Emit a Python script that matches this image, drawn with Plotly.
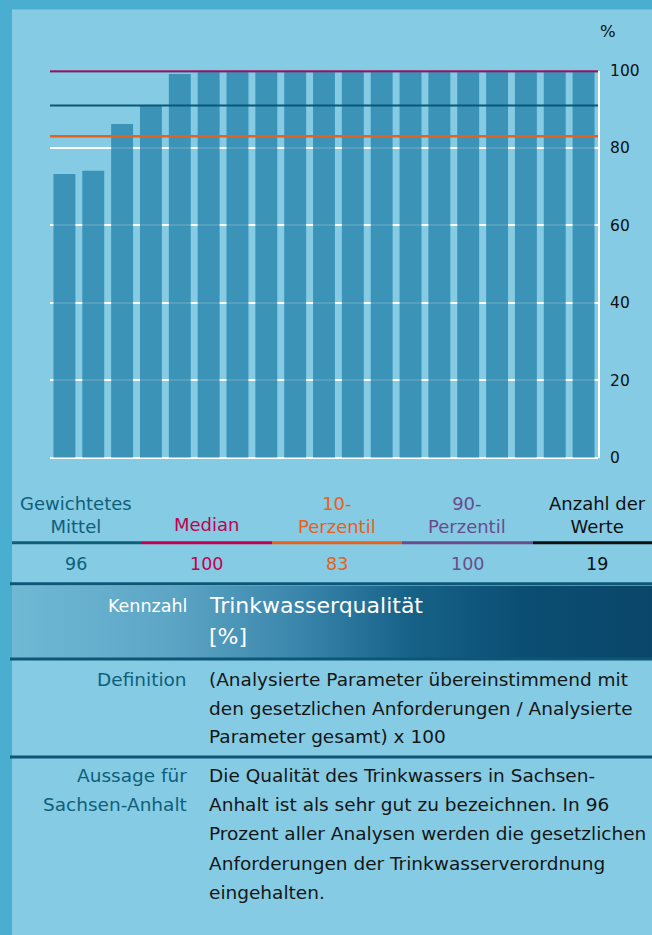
import plotly.graph_objects as go

W, H = 652, 935          # reference picture size; positions below are given in these pixels
H_FIG = 947              # figure height
S, D = 1.02, 9.7         # capture squeezes the page vertically (page_y = S*ref_y - D)

# ---- data ----
kategorien = list(range(1, 20))
werte = [73.3, 74.1, 86.2, 90.9, 99.1, 100, 100, 100, 100, 100, 100, 100, 100, 100, 100, 100, 100, 100, 100]
mittel_linie = 91
median = 100
perzentil_10 = 83
perzentil_90 = 100
y_ticks = [0, 20, 40, 60, 80, 100]

legend_labels = ["Gewichtetes<br>Mittel", "Median", "10-<br>Perzentil", "90-<br>Perzentil", "Anzahl der<br>Werte"]
legend_werte = ["96", "100", "83", "100", "19"]
legend_farben = ["#0f5f7a", "#c2004f", "#e8601c", "#6a4b8c", "#111111"]

kennzahl_text = ["Trinkwasserqualität", "[%]"]
definition_text = ["(Analysierte Parameter übereinstimmend mit",
                   "den gesetzlichen Anforderungen / Analysierte",
                   "Parameter gesamt) x 100"]
aussage_label = ["Aussage für", "Sachsen-Anhalt"]
aussage_text = ["Die Qualität des Trinkwassers in Sachsen-",
                "Anhalt ist als sehr gut zu bezeichnen. In 96",
                "Prozent aller Analysen werden die gesetzlichen",
                "Anforderungen der Trinkwasserverordnung",
                "eingehalten."]

FONT = "DejaVu Sans"
TEAL = "#0f5f7a"
LINE = "#0c5676"
BG = "#4aaed0"


def px(x):
    return x / W


def py(y):
    return 1 - (S * y - D) / H_FIG


fig = go.Figure()

# bars
fig.add_trace(go.Bar(x=list(range(len(werte))), y=werte,
                     marker=dict(color="rgba(38,132,172,0.78)", line=dict(width=0)),
                     hoverinfo="skip", showlegend=False))

# reference lines
xr = [-0.5, len(werte) - 0.5]
fig.add_trace(go.Scatter(x=xr, y=[mittel_linie] * 2, mode="lines",
                         line=dict(color="#0b5775", width=2), showlegend=False, hoverinfo="skip"))
fig.add_trace(go.Scatter(x=xr, y=[perzentil_10] * 2, mode="lines",
                         line=dict(color="#e8601c", width=2.5), showlegend=False, hoverinfo="skip"))
fig.add_trace(go.Scatter(x=xr, y=[perzentil_90] * 2, mode="lines",
                         line=dict(color="#6a4b8c", width=3.8), showlegend=False, hoverinfo="skip"))
fig.add_trace(go.Scatter(x=xr, y=[median] * 2, mode="lines",
                         line=dict(color="#c2004f", width=3), showlegend=False, hoverinfo="skip"))

# Kennzahl band with gradient (overlay axes in reference pixels)
fig.add_trace(go.Scatter(x=[12, 652, 652, 12, 12], y=[586, 586, 658, 658, 586],
                         xaxis="x2", yaxis="y2", mode="lines", line=dict(width=0),
                         fill="toself",
                         fillgradient=dict(type="horizontal", start=12, stop=652,
                                           colorscale=[[0, "#70b9d5"], [0.25, "#5ca5c5"],
                                                       [0.45, "#3a85ab"], [0.62, "#176288"],
                                                       [0.8, "#0b4e73"], [1, "#0a4669"]]),
                         showlegend=False, hoverinfo="skip"))

shapes = []
# background panel
shapes.append(dict(type="rect", xref="paper", yref="paper", x0=px(12), x1=1, y0=0, y1=min(1, py(10)),
                   fillcolor="#84cbe3", line=dict(width=0), layer="below"))

# legend underline segments
segs = [12, 141, 272, 402, 533, 652]
for i in range(5):
    shapes.append(dict(type="line", xref="paper", yref="paper", x0=px(segs[i]), x1=px(segs[i + 1]),
                       y0=py(543), y1=py(543), line=dict(color=legend_farben[i], width=3)))
# row separators
for yy in [584, 659, 757]:
    shapes.append(dict(type="line", xref="paper", yref="paper", x0=px(10), x1=1,
                       y0=py(yy), y1=py(yy), line=dict(color=LINE, width=3)))

ann = []
centers = [76, 206, 337, 467, 597]
for i in range(5):
    two = "<br>" in legend_labels[i]
    ann.append(dict(x=px(centers[i]), y=py(515.5 if two else 525), text=legend_labels[i], showarrow=False,
                    xref="paper", yref="paper", xanchor="center", yanchor="middle",
                    font=dict(family=FONT, size=18, color=legend_farben[i])))
    ann.append(dict(x=px(centers[i]), y=py(564), text=legend_werte[i], showarrow=False,
                    xref="paper", yref="paper", xanchor="center", yanchor="middle",
                    font=dict(family=FONT, size=17.5, color=legend_farben[i])))

# % label
ann.append(dict(x=px(608), y=py(32), text="%", showarrow=False, xref="paper", yref="paper",
                xanchor="center", yanchor="middle", font=dict(family=FONT, size=16.5, color="#111111")))


def label(y, text, color, size=18.5):
    ann.append(dict(x=px(189), y=py(y), text=text, showarrow=False, xref="paper", yref="paper",
                    xanchor="right", yanchor="middle", font=dict(family=FONT, size=size, color=color)))


def body(y, text, color="#161616", size=18.5):
    ann.append(dict(x=px(207), y=py(y), text=text, showarrow=False, xref="paper", yref="paper",
                    xanchor="left", yanchor="middle", font=dict(family=FONT, size=size, color=color)))


label(606, "Kennzahl", "white", 17.5)
body(606, kennzahl_text[0], "white", 22)
body(637, kennzahl_text[1], "white", 22)

label(680, "Definition", TEAL)
for i, t in enumerate(definition_text):
    body(680 + i * 28.5, t)

for i, t in enumerate(aussage_label):
    label(776 + i * 29, t, TEAL)
for i, t in enumerate(aussage_text):
    body(776 + i * 29, t)

fig.update_layout(
    width=W, height=H_FIG,
    margin=dict(l=0, r=0, t=0, b=0),
    paper_bgcolor=BG,
    plot_bgcolor="rgba(0,0,0,0)",
    bargap=0.24,
    showlegend=False,
    shapes=shapes,
    annotations=ann,
    xaxis=dict(domain=[px(50), px(598)], range=[-0.5, len(werte) - 0.5], visible=False, fixedrange=True),
    yaxis=dict(domain=[py(458), py(71)], range=[0, 100], side="right", tickvals=y_ticks,
               showgrid=True, gridcolor="white", gridwidth=2,
               zeroline=True, zerolinecolor="white", zerolinewidth=2,
               showline=True, linecolor="white", linewidth=2,
               ticks="", ticklabelstandoff=7,
               tickfont=dict(family=FONT, size=15.5, color="#111111"), fixedrange=True),
    xaxis2=dict(domain=[0, 1], range=[0, W], visible=False, fixedrange=True),
    yaxis2=dict(domain=[0, 1], range=[(H_FIG + D) / S, D / S], visible=False, fixedrange=True),
)

fig.write_html("out.html", config={"displayModeBar": False},
               post_script="document.body.style.margin='0';document.body.style.overflow='hidden';"
                           "document.body.style.background='" + BG + "';")
